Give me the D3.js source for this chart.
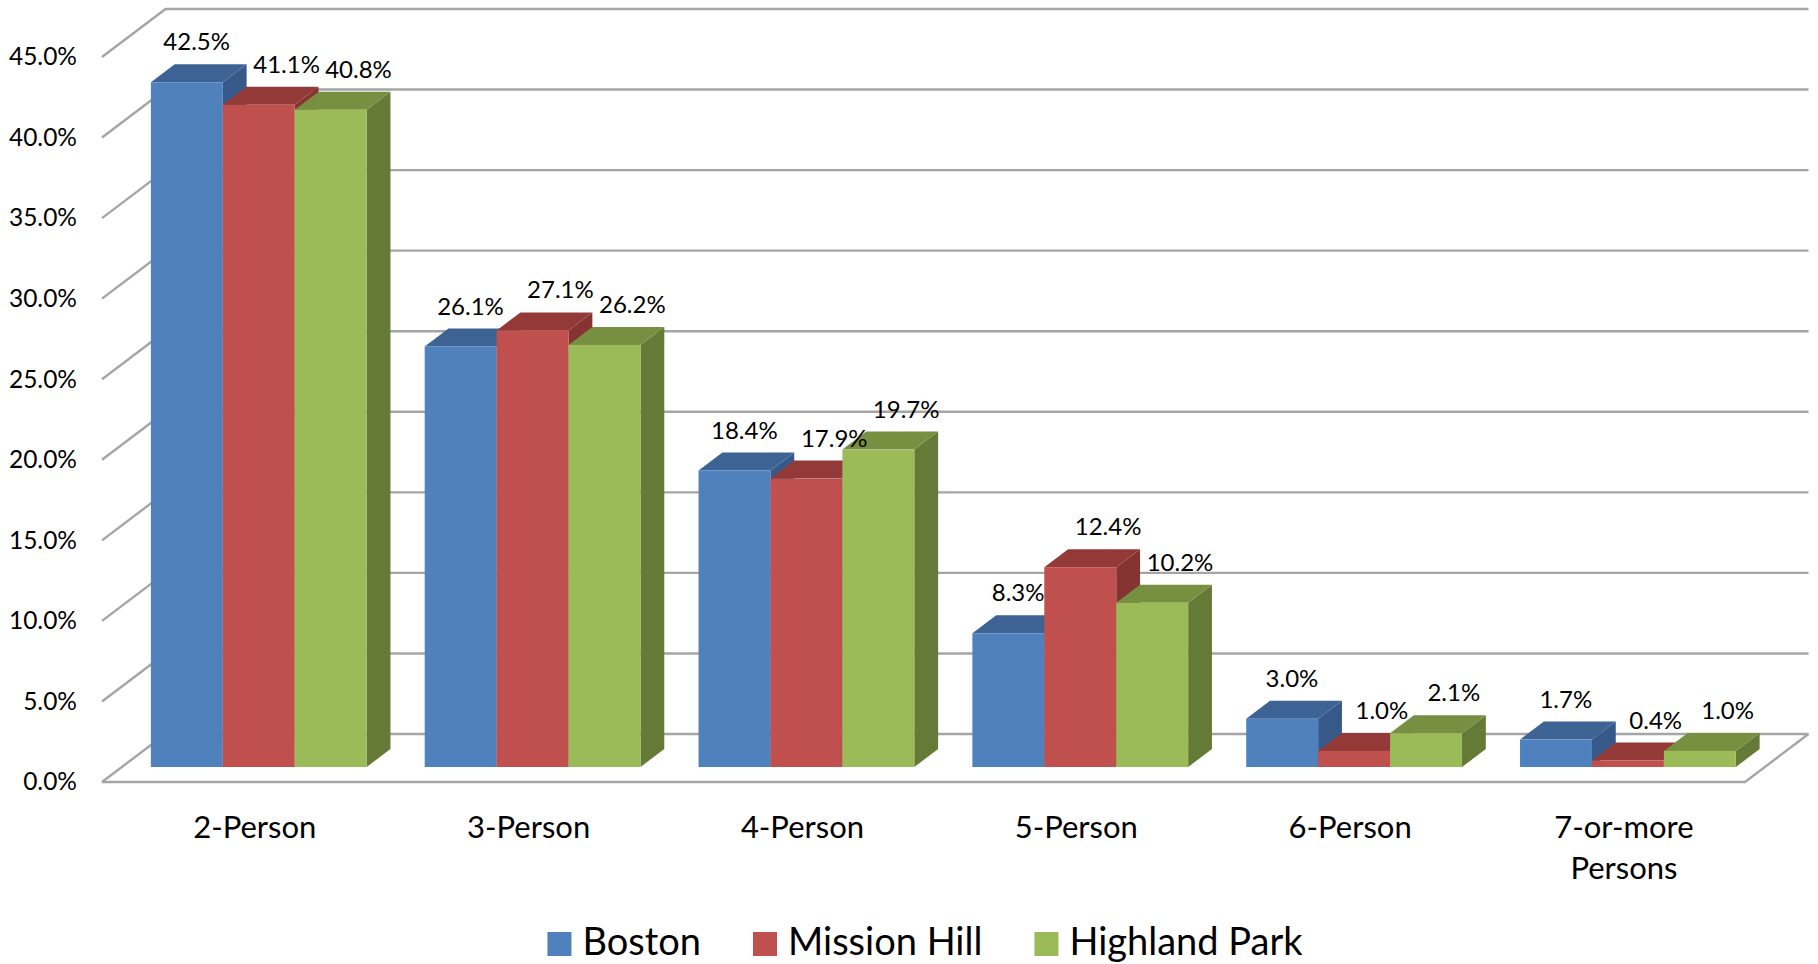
<!DOCTYPE html>
<html>
<head>
<meta charset="utf-8">
<script src="https://cdn.jsdelivr.net/npm/d3@7"></script>
<style>
  html, body { margin: 0; padding: 0; background: #ffffff; }
  svg { display: block; }
  text { font-family: Lato, "Open Sans", sans-serif; fill: #000; }
</style>
</head>
<body>
<svg id="chart" width="1818" height="964"></svg>
<script>
// ---- data ----
const categories = ["2-Person", "3-Person", "4-Person", "5-Person", "6-Person", "7-or-more Persons"];
const seriesNames = ["Boston", "Mission Hill", "Highland Park"];
const boston = [42.5, 26.1, 18.4, 8.3, 3.0, 1.7];
const missionHill = [41.1, 27.1, 17.9, 12.4, 1.0, 0.4];
const highlandPark = [40.8, 26.2, 19.7, 10.2, 2.1, 1.0];
const yTicks = [0, 5, 10, 15, 20, 25, 30, 35, 40, 45];

const seriesValues = [boston, missionHill, highlandPark];
const colors = {
  "Boston":        { front: "#4F81BD", top: "#3D6394", side: "#37598A" },
  "Mission Hill":  { front: "#C0504D", top: "#933A38", side: "#863432" },
  "Highland Park": { front: "#9BBB59", top: "#778F41", side: "#667A38" }
};

const svg = d3.select("#chart");

// ---- scales (front plane) ----
const y = d3.scaleLinear().domain([0, 45]).range([782, 57]);
const x = d3.scaleBand().domain(categories).range([102, 1745]).paddingInner(0.212).paddingOuter(0.106);
const xs = d3.scaleBand().domain(seriesNames).range([0, x.bandwidth()]);

// oblique depth projection
const DX = 63.5, DY = 48;
const proj = (px, v, z) => [px + z * DX, y(v) - z * DY];
const zFront = 0.3125, zBack = 0.6875;

// ---- walls / gridlines ----
const grid = svg.append("g");
yTicks.forEach(t => {
  const a = proj(102, t, 0), b = proj(102, t, 1), c = proj(1745, t, 1);
  grid.append("path")
    .attr("d", `M${a[0]},${a[1]}L${b[0]},${b[1]}L${c[0]},${c[1]}`)
    .attr("fill", "none").attr("stroke", "#A5A5A5").attr("stroke-width", 2.4)
    .attr("stroke-linejoin", "round");
});
// floor outline
{
  const p0 = proj(102, 0, 0), p1 = proj(1745, 0, 0), p2 = proj(1745, 0, 1);
  grid.append("path")
    .attr("d", `M${p0[0]},${p0[1]}L${p1[0]},${p1[1]}L${p2[0]},${p2[1]}`)
    .attr("fill", "none").attr("stroke", "#A5A5A5").attr("stroke-width", 2.4)
    .attr("stroke-linejoin", "round");
}

// ---- y axis labels ----
const yAxis = d3.axisLeft(y).tickValues(yTicks).tickSize(0).tickPadding(25)
  .tickFormat(d => d3.format(".1f")(d) + "%");
const ya = svg.append("g").attr("transform", "translate(102,0)").call(yAxis);
ya.select(".domain").remove();
ya.selectAll("text").style("font-size", "24.5px").style("font-family", "Lato, sans-serif").attr("fill", "#000");

// ---- bars ----
const bars = svg.append("g");
categories.forEach((cat, ci) => {
  seriesNames.forEach((s, si) => {
    const v = seriesValues[si][ci];
    const x0 = x(cat) + xs(s), x1 = x0 + xs.bandwidth();
    const col = colors[s];
    const fTL = proj(x0, v, zFront), fTR = proj(x1, v, zFront);
    const fBL = proj(x0, 0, zFront), fBR = proj(x1, 0, zFront);
    const bTL = proj(x0, v, zBack), bTR = proj(x1, v, zBack), bBR = proj(x1, 0, zBack);
    const g = bars.append("g");
    g.append("path").attr("d", `M${fTR}L${bTR}L${bBR}L${fBR}Z`).attr("fill", col.side);
    g.append("path").attr("d", `M${fTL}L${fTR}L${bTR}L${bTL}Z`).attr("fill", col.top);
    g.append("rect").attr("x", fTL[0]).attr("y", fTL[1])
      .attr("width", fTR[0] - fTL[0]).attr("height", fBL[1] - fTL[1]).attr("fill", col.front);
  });
});

// ---- value labels ----
const labels = svg.append("g");
categories.forEach((cat, ci) => {
  seriesNames.forEach((s, si) => {
    const v = seriesValues[si][ci];
    const cx = x(cat) + xs(s) + xs.bandwidth() / 2;
    const p = proj(cx, v, zBack);
    const shift = si === 0 ? -14 : 4;
    labels.append("text")
      .attr("x", p[0] + shift).attr("y", p[1] - 14)
      .attr("text-anchor", "middle")
      .style("font-size", "24px")
      .text(d3.format(".1f")(v) + "%");
  });
});

// ---- category labels ----
const catG = svg.append("g");
categories.forEach(cat => {
  const cx = proj(x(cat) + x.bandwidth() / 2, 0, 0.25)[0];
  const t = catG.append("text").attr("x", cx).attr("y", 838)
    .attr("text-anchor", "middle").style("font-size", "31px");
  cat.split(" ").forEach((w, i) => {
    t.append("tspan").attr("x", cx).attr("dy", i === 0 ? 0 : 41).text(w);
  });
});

// ---- legend ----
const leg = svg.append("g");
let lx = 0;
seriesNames.forEach(s => {
  const it = leg.append("g").attr("transform", `translate(${lx},0)`);
  it.append("rect").attr("x", 0).attr("y", 932).attr("width", 24).attr("height", 24).attr("fill", colors[s].front);
  const tx = it.append("text").attr("x", 35).attr("y", 955).style("font-size", "38px").text(s);
  const w = tx.node().getComputedTextLength();
  lx += 35 + w + 52;
});
const totalW = lx - 52;
leg.attr("transform", `translate(${925 - totalW / 2},0)`);
</script>
</body>
</html>
